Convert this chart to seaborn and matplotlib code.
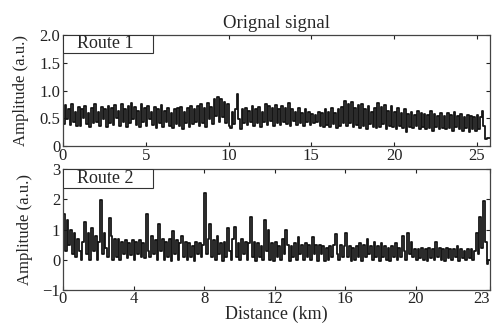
import numpy as np
import pandas as pd
import seaborn as sns
import matplotlib
matplotlib.use("Agg")
import matplotlib.pyplot as plt
from matplotlib.patches import Rectangle

sns.set_style("ticks")
plt.rcParams['font.family'] = ['Liberation Serif', 'DejaVu Serif']

# ---- data (step samples every 0.1 km) ----
step_km = 0.1
route1_amp = [
    0.40, 0.74, 0.48, 0.66, 0.38, 0.76, 0.44, 0.62, 0.36, 0.70,
    0.36, 0.66, 0.50, 0.72, 0.40, 0.60, 0.34, 0.68, 0.42, 0.76,
    0.44, 0.62, 0.36, 0.70, 0.48, 0.66, 0.34, 0.72, 0.42, 0.68,
    0.38, 0.74, 0.50, 0.64, 0.36, 0.76, 0.44, 0.66, 0.34, 0.72,
    0.42, 0.78, 0.48, 0.70, 0.38, 0.64, 0.34, 0.76, 0.44, 0.68,
    0.36, 0.72, 0.48, 0.62, 0.38, 0.70, 0.32, 0.66, 0.42, 0.74,
    0.34, 0.64, 0.44, 0.68, 0.36, 0.60, 0.32, 0.66, 0.40, 0.68,
    0.36, 0.70, 0.30, 0.62, 0.42, 0.68, 0.34, 0.72, 0.40, 0.66,
    0.44, 0.72, 0.36, 0.76, 0.42, 0.68, 0.34, 0.78, 0.48, 0.70,
    0.40, 0.84, 0.54, 0.88, 0.44, 0.84, 0.52, 0.80, 0.42, 0.76,
    0.36, 0.32, 0.62, 0.40, 0.66, 0.94, 0.48, 0.30, 0.66, 0.42,
    0.68, 0.38, 0.64, 0.44, 0.72, 0.36, 0.66, 0.42, 0.70, 0.34,
    0.62, 0.44, 0.76, 0.38, 0.72, 0.46, 0.68, 0.36, 0.74, 0.42,
    0.66, 0.38, 0.72, 0.44, 0.68, 0.40, 0.78, 0.36, 0.66, 0.46,
    0.62, 0.38, 0.68, 0.42, 0.60, 0.36, 0.66, 0.44, 0.62, 0.38,
    0.58, 0.42, 0.56, 0.44, 0.62, 0.36, 0.60, 0.34, 0.66, 0.38,
    0.62, 0.34, 0.68, 0.40, 0.60, 0.32, 0.66, 0.36, 0.70, 0.42,
    0.82, 0.36, 0.76, 0.42, 0.80, 0.34, 0.68, 0.38, 0.74, 0.32,
    0.76, 0.36, 0.66, 0.30, 0.72, 0.40, 0.62, 0.34, 0.68, 0.32,
    0.78, 0.34, 0.70, 0.40, 0.74, 0.30, 0.64, 0.36, 0.72, 0.34,
    0.62, 0.30, 0.68, 0.36, 0.60, 0.32, 0.66, 0.26, 0.58, 0.34,
    0.62, 0.32, 0.56, 0.36, 0.64, 0.30, 0.60, 0.34, 0.58, 0.30,
    0.56, 0.32, 0.64, 0.28, 0.58, 0.34, 0.54, 0.30, 0.60, 0.32,
    0.54, 0.30, 0.60, 0.32, 0.56, 0.28, 0.62, 0.34, 0.54, 0.30,
    0.58, 0.28, 0.52, 0.32, 0.56, 0.26, 0.54, 0.30, 0.52, 0.28,
    0.56, 0.30, 0.52, 0.64, 0.36, 0.12, 0.14, 0.14, 0.14,
]
route2_amp = [
    1.50, 0.30, 1.30, 0.50, 1.00, 0.20, 0.90, 0.10, 0.70, 0.30,
    0.00, 0.60, 1.25, 0.20, 0.90, 0.00, 1.05, 0.30, 0.80, 0.00,
    0.60, 1.97, 0.20, 0.90, 0.40, 0.10, 1.37, 0.80, 0.00, 0.70,
    0.10, 0.70, 0.00, 0.60, 0.20, 0.65, 0.05, 0.55, 0.15, 0.65,
    0.00, 0.60, 0.20, 0.65, 0.10, 0.55, 0.05, 1.50, 0.30, 0.10,
    0.80, 0.20, 0.65, 0.00, 1.20, 0.30, 0.70, 0.00, 0.60, 0.10,
    0.70, -0.05, 0.95, 0.20, 0.65, 0.00, 0.55, 0.80, 0.10, 0.60,
    0.00, 0.55, 0.10, 0.45, -0.05, 0.60, 0.20, 0.55, 0.10, 0.50,
    2.20, 0.20, 0.70, 1.20, 0.10, 0.65, 0.00, 0.80, 0.20, 0.55,
    -0.05, 0.60, 0.10, 1.05, 0.30, 0.00, 0.70, 1.10, 0.10, 0.55,
    0.00, 0.70, 0.20, 0.60, 0.00, 0.55, 1.40, 0.10, 0.60, -0.05,
    0.55, 0.10, 0.45, 0.00, 1.30, 0.30, 1.00, 0.00, 0.55, -0.05,
    0.60, 0.10, 0.45, 0.00, 0.70, 0.20, 1.00, 0.50, -0.05, 0.45,
    0.10, 0.55, 0.00, 0.75, 0.20, 0.50, 0.00, 0.55, 0.10, 0.50,
    0.00, 0.75, 0.20, 0.50, -0.05, 0.50, 0.20, 0.45, -0.05, 0.40,
    0.00, 0.45, 0.10, 0.50, 0.85, 0.20, 0.00, 0.50, 0.10, 0.45,
    0.90, 0.10, 0.45, -0.05, 0.40, 0.00, 0.45, 0.10, 0.55, -0.05,
    0.50, 0.10, 0.70, 0.20, 0.45, 0.00, 0.60, 0.10, 0.45, -0.05,
    0.55, 0.10, 0.45, 0.00, 0.40, -0.05, 0.45, 0.10, 0.55, 0.00,
    0.40, 0.10, 0.80, 0.30, 0.00, 0.90, 0.20, 0.60, 0.10, 0.35,
    0.00, 0.35, 0.05, 0.40, 0.00, 0.35, -0.05, 0.40, 0.05, 0.35,
    0.00, 0.60, 0.10, 0.40, 0.00, 0.35, -0.05, 0.40, 0.05, 0.35,
    0.00, 0.35, 0.10, 0.45, -0.05, 0.35, 0.05, 0.30, 0.00, 0.35,
    0.05, 0.35, 0.00, 0.30, 0.90, 0.20, 1.40, 0.40, 1.95, 0.60,
    -0.15, 0.00, 0.00,
]
route1_xticks = [0, 5, 10, 15, 20, 25]
route1_xticklabels = ["0", "5", "10", "15", "20", "25"]
route1_yticks = [0, 0.5, 1.0, 1.5, 2.0]
route1_yticklabels = ["0", "0.5", "1.0", "1.5", "2.0"]
route2_xticks = [0, 4, 8, 12, 16, 20, 24.2]
route2_xticklabels = ["0", "4", "8", "12", "16", "20", "23"]
route2_yticks = [-1, 0, 1, 2, 3]
route2_yticklabels = ["\u22121", "0", "1", "2", "3"]

df1 = pd.DataFrame({"Distance": np.arange(len(route1_amp)) * step_km, "Amp": route1_amp})
df2 = pd.DataFrame({"Distance": np.arange(len(route2_amp)) * step_km, "Amp": route2_amp})

fig = plt.figure(figsize=(4.92, 3.24), dpi=100)
ax1 = fig.add_axes([0.128, 0.549, 0.868, 0.343])
ax2 = fig.add_axes([0.128, 0.105, 0.868, 0.373])

lc = "#151515"
sns.lineplot(data=df1, x="Distance", y="Amp", ax=ax1, drawstyle="steps-post",
             color=lc, linewidth=1.3, estimator=None)
sns.lineplot(data=df2, x="Distance", y="Amp", ax=ax2, drawstyle="steps-post",
             color=lc, linewidth=1.3, estimator=None)

fs_tick = 12
fs_lab = 12
fs_big = 13
ax1.set_xlim(0, 25.8)
ax1.set_ylim(0, 2.0)
ax1.set_xticks(route1_xticks)
ax1.set_xticklabels(route1_xticklabels)
ax1.set_yticks(route1_yticks)
ax1.set_yticklabels(route1_yticklabels)

ax2.set_xlim(0, 24.2)
ax2.set_ylim(-1, 3)
ax2.set_xticks(route2_xticks)
ax2.set_xticklabels(route2_xticklabels)
ax2.set_yticks(route2_yticks)
ax2.set_yticklabels(route2_yticklabels)
ax2.get_xticklabels()[-1].set_horizontalalignment("right")

for ax in (ax1, ax2):
    ax.tick_params(direction="in", top=True, right=True, labelsize=fs_tick,
                   length=3, width=0.8, colors="#222222")
    ax.tick_params(axis="x", pad=1)
    ax.tick_params(axis="y", pad=2)
    for s in ax.spines.values():
        s.set_visible(True)
        s.set_linewidth(0.9)
        s.set_color("#444444")
    ax.set_ylabel("Amplitude (a.u.)", fontsize=fs_lab, labelpad=7)

ax1.set_xlabel("")
ax2.set_xlabel("Distance (km)", fontsize=fs_big, labelpad=-1)
ax1.set_title("Orignal signal", fontsize=13.5, pad=5)

for ax, lab in ((ax1, "Route 1"), (ax2, "Route 2")):
    ax.add_patch(Rectangle((0, 0.84), 0.21, 0.16, transform=ax.transAxes,
                           fill=True, fc="white", ec="#333333", lw=0.8, zorder=3))
    ax.text(0.033, 0.92, lab, transform=ax.transAxes, fontsize=fs_big,
            ha="left", va="center", zorder=4)

fig.savefig("out.png", dpi=100)
